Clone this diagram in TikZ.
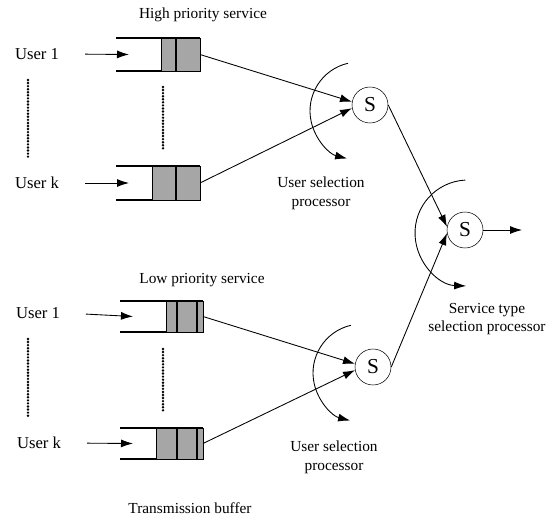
\documentclass[tikz,border=0pt]{standalone}
\usepackage{fontspec}
\setmainfont{Liberation Serif}
\usepackage{tikz}
\usetikzlibrary{arrows,arrows.meta,calc,positioning}

\begin{document}
\begin{tikzpicture}[x=0.75pt,y=-0.75pt,
  every node/.style={font=\fontsize{11.5}{14}\selectfont},
  user/.style={font=\fontsize{12.5}{14}\selectfont},
  proc/.style={circle,draw,line width=0.4pt,minimum size=27pt,inner sep=0pt,font=\fontsize{16}{16}\selectfont},
  arr/.style={-{Latex[length=9pt,width=6pt]},line width=0.65pt},
  wall/.style={line width=0.9pt},
  cell/.style={draw,line width=0.7pt,fill=black!35},
  dots/.style={line width=2pt,line cap=round,dash pattern=on 0pt off 2.3pt}]
\useasboundingbox (0,0) rectangle (559,516);

% labels
\node (hi) at (203,15) {High priority service};
\node (lo) at (202,280) {Low priority service};
\node (tb) at (190,508) {Transmission buffer};
\node[user] (u1) at (37,54) {User 1};
\node[user] (uk) at (37,183) {User k};
\node[user] (u3) at (38,313) {User 1};
\node[user] (u4) at (39,443) {User k};

% buffers: name/left/right/top/bottom/shade
\foreach \n/\l/\r/\t/\b/\s in {b1/116/200/38/71/161, b2/116/200/166/200/152,
                                 b3/120/203/301/332/166, b4/120/203/428/459/156}{
  \draw[wall] (\l,\t) -- (\r,\t);
  \draw[wall] (\l,\b) -- (\r,\b);
  \draw[cell] (\s,\t) rectangle (\r,\b);
  \coordinate (\n) at (\r,{(\t+\b)/2});
  \coordinate (\n-in) at ({\l+13},{(\t+\b)/2});
}
\foreach \t/\b in {38/71, 166/200}
  \draw[line width=0.9pt] (176,\t) -- (176,\b);
\foreach \t/\b in {301/332, 428/459}{
  \draw[line width=0.9pt] (177,\t) -- (177,\b);
  \draw[line width=0.9pt] (197,\t) -- (197,\b);
}

% dotted continuation
\draw[dots] (28,80) -- (28,157);
\draw[dots] (163,87) -- (163,150);
\draw[dots] (28,339) -- (28,417);
\draw[dots] (163,349) -- (163,412);

% users into buffers
\draw[arr,shorten <=16pt] (u1.east) -- (b1-in);
\draw[arr,shorten <=16pt] (uk.east) -- (b2-in);
\draw[arr,shorten <=16pt] (u3.east) -- (b3-in);
\draw[arr,shorten <=16pt] (u4.east) -- (b4-in);

% servers
\node[proc] (s1) at (370,105) {S};
\node[proc] (s2) at (465,230) {S};
\node[proc] (s3) at (373,367) {S};
\coordinate (out) at (522,230);

\draw[arr] (b1) -- (s1.170);
\draw[arr] (b2) -- (s1.190);
\draw[arr] (b3) -- (s3.170);
\draw[arr] (b4) -- (s3.190);
\draw[arr] (s1.east) -- (s2.170);
\draw[arr] (s3.east) -- (s2.190);
\draw[arr] (s2.east) -- (out);

% selection sweeps
\draw[arr] ($(s1)+(-11,6)$) ++(-103:49) arc[start angle=-103,end angle=-256,radius=49];
\draw[arr] ($(s3)+(-11,6)$) ++(-103:49) arc[start angle=-103,end angle=-256,radius=49];
\draw[arr] ($(s2)+(3,3)$) ++(-93:53) arc[start angle=-93,end angle=-268,radius=53];

\node[align=center] (sel1) at (321,193) {User selection\\processor};
\node[align=center] (sel2) at (334,457) {User selection\\processor};
\node[align=center] (stype) at (487,319) {Service type\\selection processor};
\end{tikzpicture}
\end{document}
